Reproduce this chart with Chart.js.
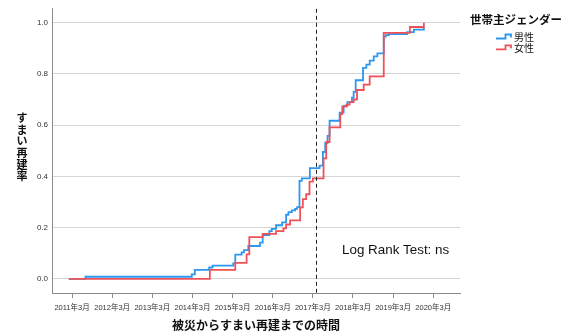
<!DOCTYPE html>
<html>
<head>
<meta charset="utf-8">
<script src="https://cdn.jsdelivr.net/npm/chart.js@4/dist/chart.umd.min.js"></script>
<style>
  html, body { margin: 0; padding: 0; background: #ffffff; }
  #wrap { width: 568px; height: 334px; position: relative; }
</style>
</head>
<body>
<div id="wrap"><canvas id="c" width="568" height="334"></canvas></div>
<script>
// Elapsed time is measured in months since March 2011.
// Male-headed households: event times and cumulative rebuilding rate.
const maleMonths = [-1, 4, 35.8, 36.7, 41, 42, 48.2, 48.8, 50.7, 51.4, 52.7, 56.2, 57, 59, 59.7, 61, 62.8, 64, 64.7, 65.7, 66.7, 67.3, 68, 68.7, 71.1, 74, 75, 75.7, 76.4, 77, 80, 81.2, 82.3, 83.7, 84.2, 84.8, 87, 88, 89, 90.2, 91.3, 93.2, 93.8, 94.7, 100.2, 102.2, 105.2];
const maleRate   = [0, 0.008, 0.017, 0.035, 0.044, 0.051, 0.06, 0.094, 0.103, 0.112, 0.128, 0.141, 0.171, 0.186, 0.195, 0.209, 0.22, 0.25, 0.26, 0.267, 0.273, 0.28, 0.382, 0.392, 0.432, 0.442, 0.495, 0.53, 0.558, 0.617, 0.649, 0.675, 0.69, 0.707, 0.73, 0.775, 0.823, 0.836, 0.852, 0.868, 0.88, 0.945, 0.951, 0.955, 0.963, 0.973, 0.98];

// Female-headed households.
const femaleMonths = [-1, 41.2, 48.8, 52.2, 53, 57, 61, 63.2, 64, 65.2, 68.2, 69, 70, 71, 72, 75.2, 76, 77, 80.2, 80.8, 82, 83, 84.2, 85.2, 87.2, 89, 93.2, 101, 105.2];
const femaleRate   = [0, 0.035, 0.062, 0.095, 0.163, 0.175, 0.186, 0.197, 0.212, 0.228, 0.279, 0.311, 0.33, 0.379, 0.392, 0.47, 0.534, 0.591, 0.643, 0.672, 0.68, 0.69, 0.7, 0.737, 0.758, 0.79, 0.96, 0.983, 1.0];

const seriesNames = ['男性', '女性'];
const seriesColors = ['#2b97ef', '#ef5158'];

const tickMonths = [0, 12, 24, 36, 48, 60, 72, 84, 96, 108];
const tickLabels = ['2011年3月', '2012年3月', '2013年3月', '2014年3月', '2015年3月', '2016年3月', '2017年3月', '2018年3月', '2019年3月', '2020年3月'];
const yTicks = [0, 0.2, 0.4, 0.6, 0.8, 1.0];

const legendTitle = '世帯主ジェンダー';
const xTitle = '被災からすまい再建までの時間';
const yTitle = 'すまい再建率';
const testNote = 'Log Rank Test: ns';
const cutoffMonth = 73;

const latin = "'Liberation Sans', Arial, 'Noto Sans CJK JP', sans-serif";
const cjk = "'Noto Sans CJK JP', 'Liberation Sans', sans-serif";

function toPoints(xs, ys) { return xs.map((x, i) => ({ x: x, y: ys[i] })); }

// Vertical dashed reference line
const cutoffLine = {
  id: 'cutoffLine',
  afterDatasetsDraw(chart) {
    const { ctx, chartArea, scales } = chart;
    const x = Math.round(scales.x.getPixelForValue(cutoffMonth)) + 0.5;
    ctx.save();
    ctx.strokeStyle = '#222';
    ctx.lineWidth = 1;
    ctx.setLineDash([4, 3]);
    ctx.beginPath();
    ctx.moveTo(x, chartArea.top);
    ctx.lineTo(x, chartArea.bottom);
    ctx.stroke();
    ctx.restore();
  }
};

// Upright stacked y-axis title, legend with step icons, and test note
const annotations = {
  id: 'annotations',
  afterDraw(chart) {
    const { ctx } = chart;
    ctx.save();
    // y-axis title, one upright character per row
    ctx.fillStyle = '#111';
    ctx.font = 'bold 11px ' + cjk;
    ctx.textAlign = 'center';
    ctx.textBaseline = 'middle';
    const chars = Array.from(yTitle);
    const step = 11.6;
    const cy = 147;
    chars.forEach((ch, i) => {
      ctx.fillText(ch, 22, cy + (i - (chars.length - 1) / 2) * step);
    });

    // legend
    ctx.textAlign = 'left';
    ctx.font = 'bold 11.5px ' + cjk;
    ctx.fillText(legendTitle, 470, 20);
    ctx.font = '10px ' + cjk;
    chart.data.datasets.forEach((ds, i) => {
      const yLow = 38.5 + i * 10.8;
      const yHigh = yLow - 4;
      ctx.strokeStyle = ds.borderColor;
      ctx.lineWidth = 1.8;
      ctx.beginPath();
      ctx.moveTo(496, yLow);
      ctx.lineTo(505.5, yLow);
      ctx.lineTo(505.5, yHigh);
      ctx.lineTo(511, yHigh);
      ctx.lineTo(511, yLow - 1);
      ctx.stroke();
      ctx.fillStyle = '#111';
      ctx.fillText(ds.label, 514, yLow - 1);
    });

    // test result note
    ctx.font = '13.4px ' + latin;
    ctx.fillStyle = '#111';
    ctx.fillText(testNote, 342, 250);
    ctx.restore();
  }
};

new Chart(document.getElementById('c'), {
  type: 'line',
  data: {
    datasets: [
      {
        label: seriesNames[0],
        data: toPoints(maleMonths, maleRate),
        borderColor: seriesColors[0],
        borderWidth: 1.8,
        stepped: 'before',
        pointRadius: 0,
        fill: false,
        order: 1
      },
      {
        label: seriesNames[1],
        data: toPoints(femaleMonths, femaleRate),
        borderColor: seriesColors[1],
        borderWidth: 1.8,
        stepped: 'before',
        pointRadius: 0,
        fill: false,
        order: 0
      }
    ]
  },
  options: {
    responsive: false,
    animation: false,
    devicePixelRatio: 1,
    layout: { padding: { left: 0, right: 108, top: 5, bottom: 0 } },
    plugins: { legend: { display: false }, tooltip: { enabled: false } },
    scales: {
      x: {
        type: 'linear',
        min: -6,
        max: 116,
        afterBuildTicks(scale) { scale.ticks = tickMonths.map(v => ({ value: v })); },
        afterFit(scale) { scale.height = 41; },
        ticks: {
          autoSkip: false,
          maxRotation: 0,
          padding: 5,
          color: '#333',
          font: { size: 7.5, family: latin },
          callback(value) {
            const i = tickMonths.indexOf(value);
            return i >= 0 ? tickLabels[i] : '';
          }
        },
        grid: { display: true, drawOnChartArea: false, drawTicks: true, tickLength: 5, tickColor: '#8c8c8c' },
        border: { display: true, color: '#8c8c8c', width: 1 },
        title: {
          display: true,
          text: xTitle,
          color: '#111',
          font: { size: 12, weight: 'bold', family: cjk },
          padding: { top: 0, bottom: 1 }
        }
      },
      y: {
        type: 'linear',
        min: -0.0555,
        max: 1.054,
        afterBuildTicks(scale) { scale.ticks = yTicks.map(v => ({ value: v })); },
        afterFit(scale) { scale.width = 52; },
        ticks: {
          padding: 4,
          color: '#333',
          font: { size: 8, family: latin },
          callback(value) { return Number(value).toFixed(1); }
        },
        grid: { color: '#d6d6d6', lineWidth: 1, drawTicks: false },
        border: { display: true, color: '#8c8c8c', width: 1 }
      }
    }
  },
  plugins: [cutoffLine, annotations]
});
</script>
</body>
</html>
